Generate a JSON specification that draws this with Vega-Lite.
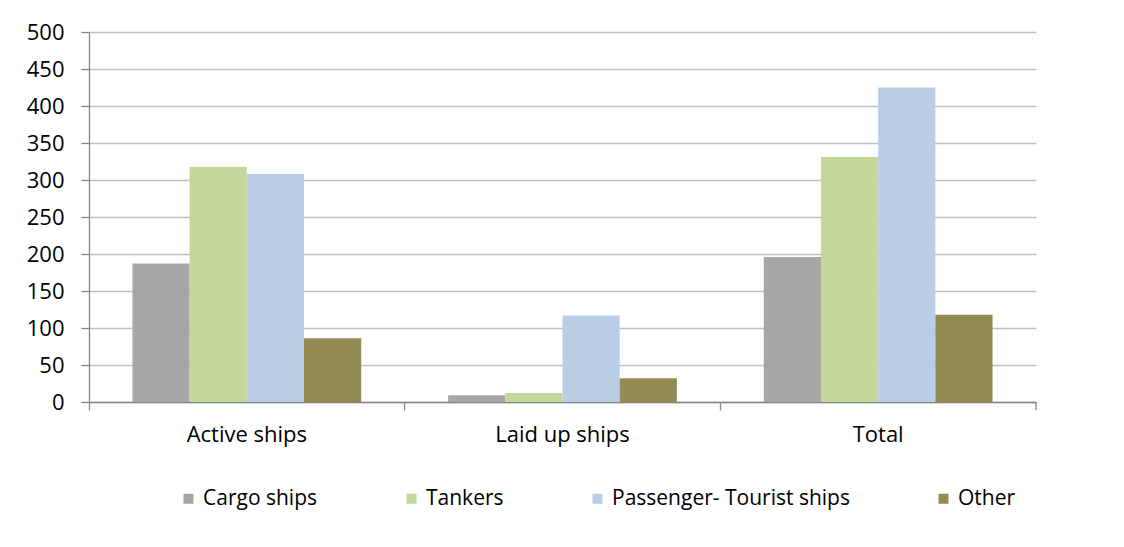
{
  "$schema": "https://vega.github.io/schema/vega-lite/v6.json",
  "autosize": {"type": "none"},
  "width": 947,
  "height": 370,
  "padding": {"left": 89, "top": 32, "right": 88, "bottom": 145},
  "background": "white",
  "config": {
    "view": {"stroke": null},
    "font": "Open Sans",
    "axis": {"labelFont": "Open Sans", "labelFontSize": 22, "labelColor": "#000000", "titleFont": "Open Sans"},
    "legend": {"labelFont": "Open Sans", "labelFontSize": 21, "labelColor": "#000000"}
  },
  "datasets": {
    "ships": [
      {"cat": "Active ships", "series": "Cargo ships", "value": 187},
      {"cat": "Active ships", "series": "Tankers", "value": 318},
      {"cat": "Active ships", "series": "Passenger- Tourist ships", "value": 308},
      {"cat": "Active ships", "series": "Other", "value": 86},
      {"cat": "Laid up ships", "series": "Cargo ships", "value": 9},
      {"cat": "Laid up ships", "series": "Tankers", "value": 12},
      {"cat": "Laid up ships", "series": "Passenger- Tourist ships", "value": 117},
      {"cat": "Laid up ships", "series": "Other", "value": 32},
      {"cat": "Total", "series": "Cargo ships", "value": 196},
      {"cat": "Total", "series": "Tankers", "value": 331},
      {"cat": "Total", "series": "Passenger- Tourist ships", "value": 425},
      {"cat": "Total", "series": "Other", "value": 118}
    ],
    "endtick": [{"cat": "Total", "value": 0, "value2": -11}]
  },
  "encoding": {
    "y": {
      "field": "value", "type": "quantitative",
      "scale": {"domain": [0, 500], "nice": false},
      "axis": {
        "title": null, "values": [0, 50, 100, 150, 200, 250, 300, 350, 400, 450, 500],
        "labelOverlap": false,
        "grid": true, "gridColor": "#bfbfbf", "gridWidth": 1.3,
        "domainColor": "#868686", "domainWidth": 1.3,
        "tickColor": "#868686", "tickSize": 8, "tickWidth": 1.3,
        "labelPadding": 17
      }
    }
  },
  "layer": [
    {
      "data": {"name": "ships"},
      "mark": {"type": "bar"},
      "encoding": {
        "x": {
          "field": "cat", "type": "nominal",
          "sort": ["Active ships", "Laid up ships", "Total"],
          "scale": {"paddingInner": 0, "paddingOuter": 0},
          "axis": {
            "title": null, "labelAngle": 0, "bandPosition": 0,
            "domainColor": "#868686", "domainWidth": 1.3,
            "tickColor": "#868686", "tickSize": 8, "tickWidth": 1.3,
            "labelPadding": 14, "labelBound": false
          }
        },
        "xOffset": {
          "field": "series", "type": "nominal",
          "sort": ["Cargo ships", "Tankers", "Passenger- Tourist ships", "Other"],
          "scale": {"paddingInner": 0, "paddingOuter": 0.76}
        },
        "color": {
          "field": "series", "type": "nominal",
          "sort": ["Cargo ships", "Tankers", "Passenger- Tourist ships", "Other"],
          "scale": {
            "domain": ["Cargo ships", "Tankers", "Passenger- Tourist ships", "Other"],
            "range": ["#a6a6a6", "#c4d79b", "#b9cde5", "#948a54"]
          },
          "legend": {
            "title": null, "orient": "none", "direction": "horizontal",
            "legendX": 89, "legendY": 456, "columns": 4, "columnPadding": 83,
            "symbolType": "square", "symbolSize": 100, "symbolStrokeWidth": 0,
            "labelOffset": 4, "padding": 0, "labelLimit": 0
          }
        }
      }
    },
    {
      "data": {"name": "endtick"},
      "mark": {"type": "rule", "color": "#868686", "strokeWidth": 1.3, "clip": false},
      "encoding": {
        "x": {
          "field": "cat", "type": "nominal", "bandPosition": 1,
          "sort": ["Active ships", "Laid up ships", "Total"],
          "scale": {"paddingInner": 0, "paddingOuter": 0},
          "axis": {
            "title": null, "labelAngle": 0, "bandPosition": 0,
            "domainColor": "#868686", "domainWidth": 1.3,
            "tickColor": "#868686", "tickSize": 8, "tickWidth": 1.3,
            "labelPadding": 14, "labelBound": false
          }
        },
        "y2": {"field": "value2"}
      }
    }
  ]
}
